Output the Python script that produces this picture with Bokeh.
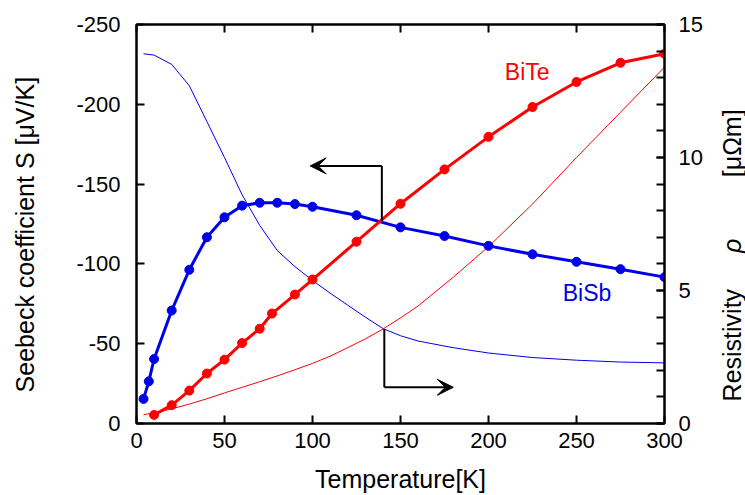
import math
from bokeh.plotting import figure
from bokeh.layouts import row
from bokeh.models import Range1d, LinearAxis, FixedTicker, Arrow, VeeHead, Label
from bokeh.core.properties import value
from bokeh.embed import file_html
from bokeh.resources import INLINE

FONT = "Liberation Sans"

# Seebeck coefficient (left axis, µV/K)
bite_T = [10, 20, 30, 40, 50, 60, 70, 77, 90, 100, 125, 150, 175, 200, 225, 250, 275, 300]
bite_S = [-5.4, -11.5, -20.6, -31.3, -40.0, -50.4, -59.4, -68.9, -80.8, -90.2,
          -113.9, -137.7, -159.2, -179.6, -198.3, -214.0, -226.0, -231.7]

bisb_T = [4, 7, 10, 20, 30, 40, 50, 60, 70, 80, 90, 100, 125, 150, 175, 200, 225, 250, 275, 300]
bisb_S = [-15.4, -26.4, -40.4, -70.8, -96.3, -116.7, -129.2, -136.5, -138.3, -138.3,
          -137.5, -135.8, -130.5, -122.9, -117.5, -111.3, -106.0, -101.3, -96.7, -91.7]

# Resistivity (right axis, µΩm)
rho_T = [4, 10, 20, 30, 40, 50, 60, 70, 80, 90, 100, 110, 120, 130, 140, 150, 160, 180,
         200, 225, 250, 275, 300]
bisb_rho = [13.9, 13.85, 13.5, 12.7, 11.35, 10.0, 8.6, 7.45, 6.5, 5.9, 5.38, 4.9, 4.45,
            4.0, 3.57, 3.3, 3.1, 2.85, 2.65, 2.48, 2.38, 2.31, 2.28]
bite_rho = [0.33, 0.40, 0.55, 0.73, 0.93, 1.15, 1.36, 1.57, 1.79, 2.02, 2.26, 2.53, 2.85,
            3.18, 3.55, 3.97, 4.42, 5.5, 6.65, 8.25, 10.0, 11.7, 13.4]

x_ticks = [0, 50, 100, 150, 200, 250, 300]
s_ticks = [-250, -200, -150, -100, -50, 0]
rho_ticks = [0, 5, 10, 15]
rho_minor = list(range(16))

# axis titles
x_title = "Temperature[K]"
s_title = "Seebeck coefficient S [μV/K]"
rho_title = [("Resistivity", "normal"), ("ρ", "italic"), ("[μΩm]", "normal")]

RED = "#ff0000"
BLUE = "#0000e6"

p = figure(width=665, height=495, output_backend="svg", toolbar_location=None,
           x_range=Range1d(0, 300), y_range=Range1d(0, -250),
           min_border_left=96, min_border_right=40, min_border_top=24,
           min_border_bottom=71, background_fill_color="white",
           border_fill_color="white")
p.extra_y_ranges = {"rho": Range1d(0, 15)}
p.xgrid.visible = False
p.ygrid.visible = False
p.outline_line_color = "black"
p.outline_line_width = 2
p.outline_line_alpha = 1

def style_axis(ax, tick_len=8):
    ax.major_tick_in = tick_len
    ax.major_tick_out = 0
    ax.minor_tick_in = tick_len
    ax.minor_tick_out = 0
    ax.axis_line_width = 2
    ax.major_tick_line_width = 2
    ax.minor_tick_line_width = 2
    ax.major_label_text_font = FONT
    ax.major_label_text_font_size = "22px"
    ax.major_label_text_color = "black"
    ax.axis_label_text_font = FONT
    ax.axis_label_text_font_size = "25px"
    ax.axis_label_text_font_style = "normal"
    ax.axis_label_text_color = "black"

xa = p.xaxis[0]
xa.ticker = FixedTicker(ticks=x_ticks)
style_axis(xa)
xa.minor_tick_in = 0
xa.axis_label = x_title
xa.major_label_standoff = 9
xa.axis_label_standoff = 14

ya = p.yaxis[0]
ya.ticker = FixedTicker(ticks=s_ticks)
style_axis(ya)
ya.minor_tick_in = 0
ya.major_label_overrides = {t: str(t) for t in s_ticks}
ya.major_label_standoff = 16

# right axis: ticks and numbers
ra = LinearAxis(y_range_name="rho", ticker=FixedTicker(ticks=rho_ticks, minor_ticks=rho_minor))
style_axis(ra)
ra.major_label_standoff = 14
p.add_layout(ra, "right")

ta = LinearAxis(ticker=FixedTicker(ticks=x_ticks))
style_axis(ta)
ta.minor_tick_in = 0
ta.major_label_overrides = {t: "" for t in x_ticks}
ta.major_label_standoff = 0
ta.major_label_text_font_size = "1px"
p.add_layout(ta, "above")

# thin resistivity curves
p.line(rho_T, bisb_rho, y_range_name="rho", color=BLUE, line_width=1)
p.line(rho_T, bite_rho, y_range_name="rho", color=RED, line_width=1)

# thick Seebeck curves with markers
p.line(bisb_T, bisb_S, color=BLUE, line_width=3)
p.scatter(bisb_T, bisb_S, marker="circle", size=9, color=BLUE)
p.line(bite_T, bite_S, color=RED, line_width=3)
p.scatter(bite_T, bite_S, marker="circle", size=9, color=RED)

# series labels
p.add_layout(Label(x=222, y=-220, text="BiTe", text_align="center", text_baseline="middle",
                   text_color=RED, text_font=FONT, text_font_size="23px"))
p.add_layout(Label(x=256, y=-82, text="BiSb", text_align="center", text_baseline="middle",
                   text_color=BLUE, text_font=FONT, text_font_size="23px"))

# arrows: Seebeck -> left axis
p.add_layout(Arrow(end=None, x_start=139.4, y_start=-127, x_end=139.4, y_end=-161.4,
                   line_color="black", line_width=2))
p.add_layout(Arrow(end=VeeHead(size=16, fill_color="black", line_color="black"),
                   x_start=139.4, y_start=-161.4, x_end=98.7, y_end=-161.4,
                   line_color="black", line_width=2))
# arrows: resistivity -> right axis
p.add_layout(Arrow(end=None, x_start=140.8, y_start=3.55, x_end=140.8, y_end=1.36,
                   y_range_name="rho", line_color="black", line_width=2))
p.add_layout(Arrow(end=VeeHead(size=16, fill_color="black", line_color="black"),
                   x_start=140.8, y_start=1.36, x_end=180, y_end=1.36,
                   y_range_name="rho", line_color="black", line_width=2))

def strip():
    s = figure(width=40, height=495, output_backend="svg", toolbar_location=None,
               x_range=Range1d(0, 40), y_range=Range1d(0, 15),
               x_axis_location=None, y_axis_location=None, min_border=0,
               outline_line_color=None, background_fill_color="white",
               border_fill_color="white")
    s.xgrid.visible = False
    s.ygrid.visible = False
    return s

# left strip: Seebeck axis title, centred a little below the frame centre
tl = strip()
tl.text(x=[24], y=[7.1], text=[s_title], angle=math.pi / 2, text_align="center",
        text_baseline="middle", text_color="black", text_font=value(FONT),
        text_font_size="25px")

# right strip: resistivity axis title (reads bottom to top)
tr = strip()
title_pos = [0.83, 6.41, 9.26]   # start of each piece, in right-axis units
for (txt, style), y0 in zip(rho_title, title_pos):
    tr.text(x=[26], y=[y0], text=[txt], angle=math.pi / 2, text_align="left",
            text_baseline="middle", text_color="black", text_font=value(FONT),
            text_font_size="25px", text_font_style=value(style))

layout = row(tl, p, tr, spacing=0)
open("out.html", "w").write(file_html(layout, INLINE))
